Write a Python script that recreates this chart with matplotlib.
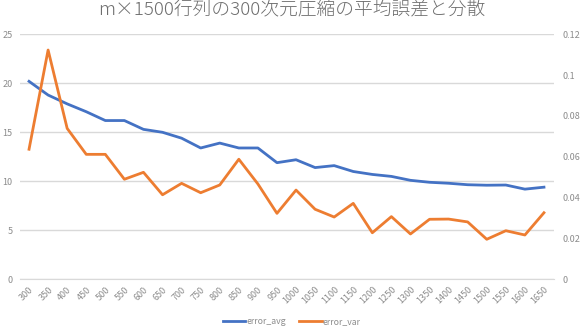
import matplotlib.pyplot as plt
import numpy as np

plt.rcParams['font.family'] = ['Noto Sans CJK JP', 'DejaVu Sans']

sizes = [300, 350, 400, 450, 500, 550, 600, 650, 700, 750, 800, 850, 900, 950,
         1000, 1050, 1100, 1150, 1200, 1250, 1300, 1350, 1400, 1450, 1500, 1550, 1600, 1650]
error_avg = [20.2, 18.8, 17.9, 17.1, 16.2, 16.2, 15.3, 15.0, 14.4, 13.4, 13.9, 13.4, 13.4, 11.9,
             12.2, 11.4, 11.6, 11.0, 10.7, 10.5, 10.1, 9.9, 9.8, 9.65, 9.6, 9.62, 9.2, 9.4]
error_var = [0.0637, 0.1123, 0.0739, 0.0612, 0.0612, 0.049, 0.0524, 0.0414, 0.047, 0.0424,
             0.0462, 0.0588, 0.0467, 0.0323, 0.0437, 0.0343, 0.0305, 0.0372, 0.0228, 0.0307,
             0.0222, 0.0294, 0.0295, 0.0281, 0.0196, 0.0238, 0.0217, 0.0326]

blue = '#4472C4'
orange = '#ED7D31'
grey = '#8C8C8C'

fig = plt.figure(figsize=(5.83, 3.26), dpi=100)
ax = fig.add_axes([19.5 / 583, 46.7 / 326, 534 / 583, 245 / 326])
ax2 = ax.twinx()

x = np.arange(len(sizes))
l1, = ax.plot(x, error_avg, color=blue, lw=2, label='error_avg')
l2, = ax2.plot(x, error_var, color=orange, lw=2, label='error_var')

ax.set_xlim(-0.5, len(sizes) - 0.5)
ax.set_ylim(0, 25)
ax.set_yticks(range(0, 26, 5))
ax2.set_ylim(0, 0.12)
ax2.set_yticks([0, 0.02, 0.04, 0.06, 0.08, 0.1, 0.12])
ax2.set_yticklabels(['0', '0.02', '0.04', '0.06', '0.08', '0.1', '0.12'])

ax.set_xticks(x)
ax.set_xticklabels([str(s) for s in sizes], rotation=45, ha='right', rotation_mode='anchor')

ax.grid(axis='y', color='#D9D9D9', lw=1)
ax.set_axisbelow(True)
for a in (ax, ax2):
    for s in a.spines.values():
        s.set_visible(False)
    a.tick_params(length=0, labelsize=6.5, colors=grey)
ax.tick_params(axis='y', pad=5)
ax.tick_params(axis='x', pad=4)
ax2.tick_params(axis='y', pad=6.5)
ax.spines['bottom'].set_visible(True)
ax.spines['bottom'].set_color('#D9D9D9')

fig.suptitle('m×1500行列の300次元圧縮の平均誤差と分散', x=0.5, y=0.998,
             fontsize=13.5, color='#6E6E6E', fontweight='light')

fig.legend(handles=[l1, l2], loc='lower center', bbox_to_anchor=(0.5, -0.025), ncol=2,
           frameon=False, fontsize=6.3, labelcolor=grey, handlelength=2.6, columnspacing=1.5,
           handletextpad=0.1)

fig.savefig('out.png', dpi=100)
